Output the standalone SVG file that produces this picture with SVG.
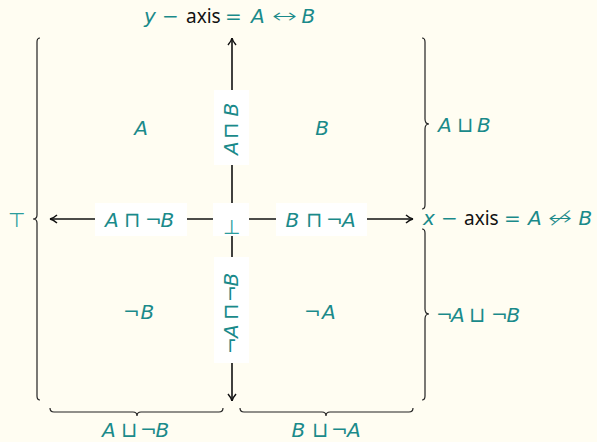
<svg xmlns="http://www.w3.org/2000/svg" width="597" height="442" viewBox="0 0 597 442">
<defs>
<style>
.bg{fill:#fffdf2}
.t{font-family:"DejaVu Sans",sans-serif;font-size:20px;fill:#1a8a8a}
.i{font-style:italic}
.o{font-size:21px;font-weight:200}
.k{font-family:"Noto Sans","DejaVu Sans",sans-serif;fill:#111;font-size:19px}
.lt{fill:#2b9c9c;font-weight:200}
.ax{stroke:#111;stroke-width:1.6;fill:none}
.br{stroke:#222;stroke-width:1.2;fill:none}
.box{fill:#ffffff}
</style>
<marker id="ah" viewBox="0 0 10 10" refX="9" refY="5" markerWidth="10" markerHeight="10" markerUnits="userSpaceOnUse" orient="auto">
<path d="M2,1 Q6,4.5 9,5 Q6,5.5 2,9" stroke="#111" stroke-width="1.5" fill="none"/>
</marker>
</defs>
<rect class="bg" x="0" y="0" width="597" height="442"/>
<g id="connectors">
<line class="ax" x1="232" y1="219" x2="232" y2="38" marker-end="url(#ah)"/>
<line class="ax" x1="232" y1="219" x2="232" y2="401" marker-end="url(#ah)"/>
<line class="ax" x1="232" y1="219" x2="50" y2="219" marker-end="url(#ah)"/>
<line class="ax" x1="232" y1="219" x2="413" y2="219" marker-end="url(#ah)"/>
</g>
<g id="braces">
<path class="br" d="M40,38 Q37,38 37,42 L37,215 Q37,219 33,219 Q37,219 37,223 L37,396 Q37,400 40,400"/>
<path class="br" d="M422,38 Q425,38 425,42 L425,119 Q425,124 429,124 Q425,124 425,129 L425,205 Q425,209 422,209"/>
<path class="br" d="M422,229 Q425,229 425,233 L425,309 Q425,314 429,314 Q425,314 425,319 L425,396 Q425,400 422,400"/>
<path class="br" d="M50,408 Q50,412 54,412 L133,412 Q137,412 137,416 Q137,412 141,412 L219,412 Q223,412 223,408"/>
<path class="br" d="M240,408 Q240,412 244,412 L322,412 Q326,412 326,416 Q326,412 330,412 L409,412 Q413,412 413,408"/>
</g>
<g id="title">
<text class="t" y="23"><tspan class="i" x="144">y</tspan><tspan x="162">−</tspan><tspan class="k" x="186">axis</tspan><tspan x="225">=</tspan><tspan class="i" x="251">A</tspan><tspan class="i" x="301.5">B</tspan></text>
<text class="t" x="272" y="23" style="font-weight:200" textLength="25" lengthAdjust="spacingAndGlyphs">↔</text>
</g>
<g id="xlabel">
<text class="t" y="225"><tspan class="i" x="423">x</tspan><tspan x="441">−</tspan><tspan class="k" x="464">axis</tspan><tspan x="504">=</tspan><tspan class="i" x="528">A</tspan><tspan class="i" x="578.5">B</tspan></text>
<text class="t" x="548" y="225" style="font-weight:200" textLength="24" lengthAdjust="spacingAndGlyphs">↮</text>
</g>
<g id="top"><text class="t lt" x="16" y="227" text-anchor="middle">⊤</text></g>
<g id="regionA"><text class="t i" x="141" y="135" text-anchor="middle">A</text></g>
<g id="regionB"><text class="t i" x="322" y="135" text-anchor="middle">B</text></g>
<g id="regionNotB"><text class="t" y="319"><tspan x="123">¬</tspan><tspan class="i" x="140.5">B</tspan></text></g>
<g id="regionNotA"><text class="t" y="319"><tspan x="304">¬</tspan><tspan class="i" x="322">A</tspan></text></g>
<g id="bottom">
<rect class="box" x="213" y="203" width="36" height="33"/>
<text class="t lt" x="231" y="234" text-anchor="middle">⊥</text>
</g>
<g id="AandNotB">
<rect class="box" x="95" y="203" width="92" height="33"/>
<text class="t" y="227"><tspan class="i" x="105">A</tspan><tspan class="o" x="123.5">⊓</tspan><tspan x="145">¬</tspan><tspan class="i" x="160.5">B</tspan></text>
</g>
<g id="BandNotA">
<rect class="box" x="276" y="203" width="91" height="33"/>
<text class="t" y="227"><tspan class="i" x="285.5">B</tspan><tspan class="o" x="305.5">⊓</tspan><tspan x="326">¬</tspan><tspan class="i" x="342">A</tspan></text>
</g>
<g id="AandB">
<rect class="box" x="214" y="90" width="35" height="75"/>
<text class="t" transform="translate(238,155) rotate(-90)" y="0"><tspan class="i" x="0">A</tspan><tspan class="o" x="16.5">⊓</tspan><tspan class="i" x="38.5">B</tspan></text>
</g>
<g id="NotAandNotB">
<rect class="box" x="214" y="257" width="35" height="106"/>
<text class="t" transform="translate(238,354) rotate(-90)" y="0"><tspan x="0">¬</tspan><tspan class="i" x="16">A</tspan><tspan class="o" x="34.5">⊓</tspan><tspan x="52">¬</tspan><tspan class="i" x="67.5">B</tspan></text>
</g>
<g id="AorB"><text class="t" y="132"><tspan class="i" x="438">A</tspan><tspan class="o" x="456.5">⊔</tspan><tspan class="i" x="477">B</tspan></text></g>
<g id="NotAorNotB"><text class="t" y="322"><tspan x="436">¬</tspan><tspan class="i" x="451">A</tspan><tspan class="o" x="468.5">⊔</tspan><tspan x="491">¬</tspan><tspan class="i" x="506.5">B</tspan></text></g>
<g id="AorNotB"><text class="t" y="437"><tspan class="i" x="102">A</tspan><tspan class="o" x="120.5">⊔</tspan><tspan x="140">¬</tspan><tspan class="i" x="155.5">B</tspan></text></g>
<g id="BorNotA"><text class="t" y="437"><tspan class="i" x="291.5">B</tspan><tspan class="o" x="311.5">⊔</tspan><tspan x="331">¬</tspan><tspan class="i" x="347">A</tspan></text></g>
</svg>
